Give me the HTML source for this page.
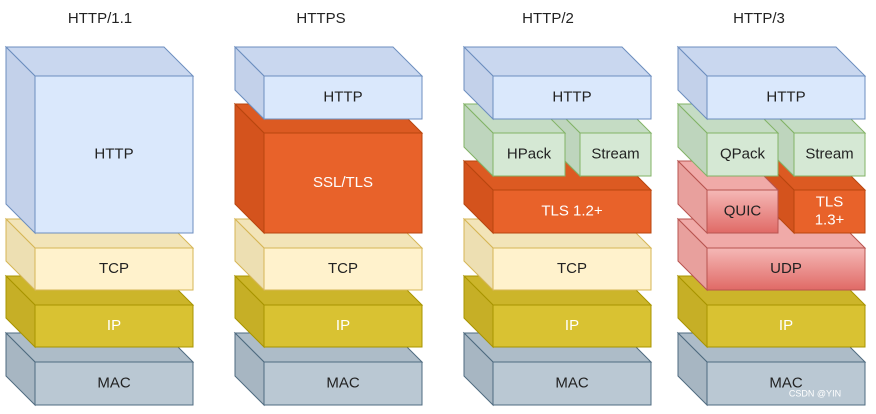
<!DOCTYPE html>
<html><head><style>body{margin:0;background:#fff}svg{display:block}text{font-family:"Liberation Sans",sans-serif;font-size:15px;text-anchor:middle;dominant-baseline:middle}</style></head><body>
<svg width="876" height="414" viewBox="0 0 876 414" xmlns="http://www.w3.org/2000/svg">
<g id="g"></g>
</svg>
<script>
const S={
b:['#dae8fc','#c9d7ef','#c3d1ea','#6c8ebf','#222'],
g:['#d5e8d4','#c5dcc4','#bed5bd','#82b366','#222'],
o:['#e8622a','#dc5a22','#d4531d','#b8460f','#fff'],
y:['#fff2cc','#f2e4b8','#eddfb2','#d6b656','#222'],
i:['#d9c232','#ccb52a','#c6af26','#a89400','#fff'],
m:['#bac8d3','#adbcc8','#a7b6c2','#4f6b80','#222'],
r:['#eb8f8c','#f0aaa8','#e8a09d','#b85450','#222']};
let out='';
function cube(x,y,w,h,c,t,d){d=d||29;const s=S[c];
out+=`<polygon points="${x-d},${y-d} ${x-d+w},${y-d} ${x+w},${y} ${x},${y}" fill="${s[1]}" stroke="${s[3]}"/>`;
out+=`<polygon points="${x-d},${y-d} ${x},${y} ${x},${y+h} ${x-d},${y+h-d}" fill="${s[2]}" stroke="${s[3]}"/>`;
const f=c=='r'?'url(#rg)':s[0];
out+=`<rect x="${x}" y="${y}" width="${w}" height="${h}" fill="${f}" stroke="${s[3]}"/>`;
const lines=t.split('|');lines.forEach((l,i)=>{out+=`<text x="${x+w/2}" y="${y+h/2+(i-(lines.length-1)/2)*18}" fill="${s[4]}">${l}</text>`});}
const cols=[35,264,493,707],titles=['HTTP/1.1','HTTPS','HTTP/2','HTTP/3'],tx=[100,321,548,759];
cols.forEach((x,i)=>{out+=`<text x="${tx[i]}" y="19" fill="#222">${titles[i]}</text>`;
cube(x,362,158,43,'m','MAC');cube(x,305,158,42,'i','IP');});
[0,1,2].forEach(i=>cube(cols[i],248,158,42,'y','TCP'));
cube(707,248,158,42,'r','UDP');
cube(35,76,158,157,'b','HTTP');
cube(264,133,158,100,'o','SSL/TLS');cube(264,76,158,43,'b','HTTP');
cube(493,190,158,43,'o','TLS 1.2+');cube(580,133,71,43,'g','Stream');cube(493,133,72,43,'g','HPack');cube(493,76,158,43,'b','HTTP');
cube(794,190,71,43,'o','TLS|1.3+');cube(707,190,71,43,'r','QUIC');cube(794,133,71,43,'g','Stream');cube(707,133,71,43,'g','QPack');cube(707,76,158,43,'b','HTTP');
out+=`<text x="815" y="394" style="font-size:9px" fill="#fff">CSDN @YIN</text>`;
document.getElementById('g').innerHTML='<defs><linearGradient id="rg" x1="0" y1="0" x2="0" y2="1"><stop offset="0" stop-color="#f5b8b6"/><stop offset="1" stop-color="#e06a66"/></linearGradient></defs>'+out;
</script>
</body></html>
